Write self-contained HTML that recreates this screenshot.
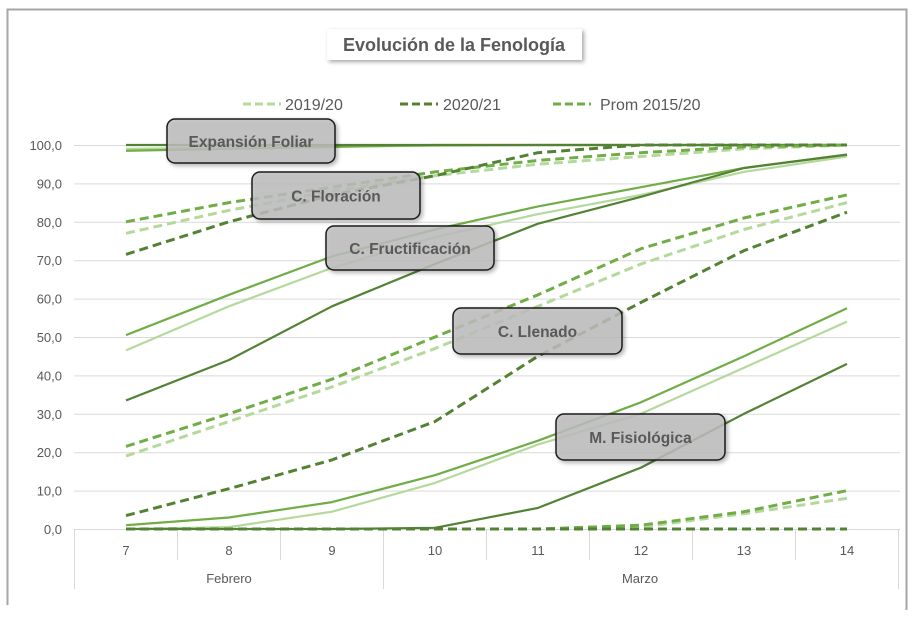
<!DOCTYPE html>
<html><head><meta charset="utf-8"><style>
html,body{margin:0;padding:0;background:#fff;width:917px;height:622px;overflow:hidden}
svg{display:block;font-family:"Liberation Sans",sans-serif}
</style></head><body>
<svg id="s" width="917" height="622" viewBox="0 0 917 622">
<defs>
<filter id="sh" x="-10%" y="-10%" width="130%" height="140%"><feDropShadow dx="2" dy="2" stdDeviation="2" flood-color="#000" flood-opacity="0.35"/></filter>
</defs>
<g id="grid"></g>
<g id="lines"></g>
<g id="txt"></g>
</svg>
<script>
const NS="http://www.w3.org/2000/svg",s=document.getElementById('s');
function el(t,a,p,txt){const e=document.createElementNS(NS,t);for(const k in a)e.setAttribute(k,a[k]);if(txt!==undefined)e.textContent=txt;(p||s).appendChild(e);return e;}
const g=document.getElementById('grid'),L=document.getElementById('lines'),T=document.getElementById('txt');
el('path',{d:'M7.5,605 V9.5 H906.5 V610',fill:'none',stroke:'#a6a6a6','stroke-width':2},g);
const Y=v=>529-v*3.84, X=i=>126+i*103;
for(let v=0;v<=100;v+=10){el('line',{x1:74,x2:900,y1:Y(v)+.5,y2:Y(v)+.5,stroke:'#d9d9d9','stroke-width':1},g);
 el('text',{x:62,y:Y(v)+5,'text-anchor':'end','font-size':13,fill:'#595959'},T,v.toFixed(1).replace('.',','));}
for(let i=0;i<=8;i++){const x=74+i*103+.5;el('line',{x1:x,x2:x,y1:529,y2:(i==0||i==3||i==8)?589:560,stroke:'#d9d9d9'},g);}
for(let i=0;i<8;i++)el('text',{x:X(i),y:555,'text-anchor':'middle','font-size':13,fill:'#595959'},T,String(7+i));
el('text',{x:229,y:583,'text-anchor':'middle','font-size':13,fill:'#595959'},T,'Febrero');
el('text',{x:640,y:583,'text-anchor':'middle','font-size':13,fill:'#595959'},T,'Marzo');
const C={l:'#b5d99c',d:'#548235',m:'#70ad47'};
const S=[
 ['l',0,[99,99.3,99.6,99.8,100,100,100,100]],['m',0,[98.5,99,99.5,100,100,100,100,100]],['d',0,[100,100,100,100,100,100,100,100]],
 ['l',1,[77,83,88,92,95,97,99,100]],['m',1,[80,85,89,93,96,98,99.5,100]],['d',1,[71.5,80,87,92,98,100,100,100]],
 ['l',0,[46.5,58,68,76,82,87,93,97]],['m',0,[50.5,61,71,78,84,89,94,97.5]],['d',0,[33.5,44,58,69,79.5,86.5,94,97.5]],
 ['l',1,[19,28,37,47,58,69,78,85]],['m',1,[21.5,30,39,50,61,73,81,87]],['d',1,[3.5,10.5,18,28,45,59,72.5,82.5]],
 ['l',0,[0,0.5,4.5,12,22,30,42,54]],['m',0,[1,3,7,14,23,33,45,57.5]],['d',0,[0,0,0,0.3,5.5,16,30,43]],
 ['l',1,[0,0,0,0,0,0.5,4,8]],['m',1,[0,0,0,0,0,1,4.5,10]],['d',1,[0,0,0,0,0,0,0,0]]
];
S.forEach(([c,dash,v])=>{const d=v.map((y,i)=>(i?'L':'M')+X(i)+','+Y(y).toFixed(1)).join(' ');
 const a={d:d,fill:'none',stroke:C[c],'stroke-width':dash?3:2.2,'stroke-linejoin':'round'};if(dash)a['stroke-dasharray']='9,5';el('path',a,L);});
el('rect',{x:327,y:29,width:255,height:31,fill:'#fff',filter:'url(#sh)'},T);
el('text',{x:454,y:51,'text-anchor':'middle','font-size':18,'font-weight':'bold',fill:'#595959'},T,'Evolución de la Fenología');
[[243,285,'l','2019/20'],[400,443,'d','2020/21'],[553,600,'m','Prom 2015/20']].forEach(([x,tx,c,t])=>{
 el('line',{x1:x,x2:x+38,y1:104,y2:104,stroke:C[c],'stroke-width':3,'stroke-dasharray':'8,4'},T);
 el('text',{x:tx,y:110,'font-size':16,fill:'#595959'},T,t);});
[[167,119,168,44,'Expansión Foliar'],[252,172,168,47,'C. Floración'],[326,226,168,44,'C. Fructificación'],[453,308,169,46,'C. Llenado'],[556,414,169,46,'M. Fisiológica']].forEach(([x,y,w,h,t])=>{
 el('rect',{x:x,y:y,width:w,height:h,rx:8,fill:'rgba(190,190,190,0.82)',stroke:'#1a1a1a','stroke-width':1.5,filter:'url(#sh)'},T);
 el('text',{x:x+w/2,y:y+h/2+6,'text-anchor':'middle','font-size':15.5,'font-weight':'bold',fill:'#595959'},T,t);});
</script>
</body></html>
